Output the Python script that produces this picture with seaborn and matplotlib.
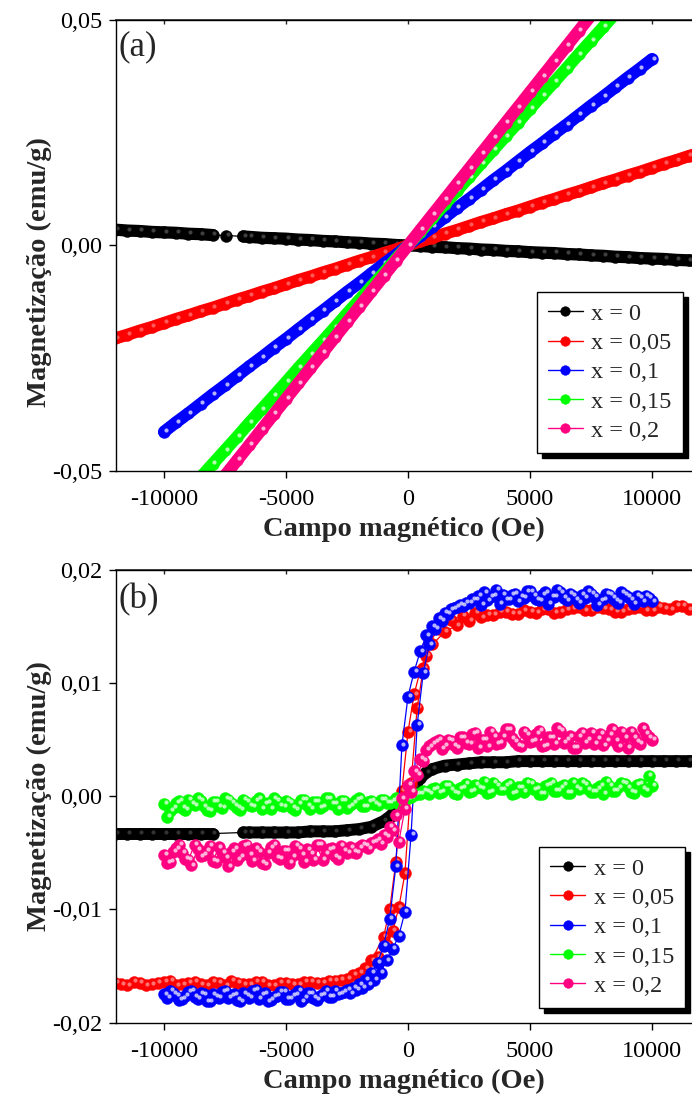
import numpy as np
import matplotlib.pyplot as plt
import matplotlib.transforms as mtransforms
import seaborn as sns

# ---- values ----
labels = ['x = 0', 'x = 0,05', 'x = 0,1', 'x = 0,15', 'x = 0,2']
colors = ['#000000', '#ff0000', '#0000ff', '#00ff00', '#ff0080']

xticks = [-10000, -5000, 0, 5000, 10000]
xtick_labels = ['-10000', '-5000', '0', '5000', '10000']
yticks_a = [-0.05, 0.0, 0.05]
ytick_labels_a = ['-0,05', '0,00', '0,05']
yticks_b = [-0.02, -0.01, 0.0, 0.01, 0.02]
ytick_labels_b = ['-0,02', '-0,01', '0,00', '0,01', '0,02']

# (a) linear M(H)
field_a_black = [-12000, -11500, -11000, -10500, -10000, -9500, -9000, -8500, -8000,
                 -7450, -6750, -6500, -6000, -5500, -5000, -4500, -4000, -3500, -3000,
                 -2500, -2000, -1500, -1000, -500, 0, 500, 1000, 1500, 2000, 2500, 3000,
                 3500, 4000, 4500, 5000, 5500, 6000, 6500, 7000, 7500, 8000, 8500, 9000,
                 9500, 10000, 10500, 11000, 11500, 12000]
m_a_black = [0.0035, 0.0033, 0.0032, 0.0030, 0.0029, 0.0028, 0.0026, 0.0025, 0.0023,
             0.0022, 0.0020, 0.0019, 0.0017, 0.0016, 0.0015, 0.0013, 0.0012, 0.0010, 0.0009,
             0.0007, 0.0006, 0.0004, 0.0003, 0.0001, 0.0, -0.0001, -0.0003, -0.0004, -0.0006,
             -0.0007, -0.0009, -0.0010, -0.0012, -0.0013, -0.0015, -0.0016, -0.0017, -0.0019,
             -0.0020, -0.0022, -0.0023, -0.0025, -0.0026, -0.0028, -0.0029, -0.0030, -0.0032,
             -0.0033, -0.0035]

field_a_wide = [-12000, -11500, -11000, -10500, -10000, -9500, -9000, -8500, -8000, -7500,
                -7000, -6500, -6000, -5500, -5000, -4500, -4000, -3500, -3000, -2500, -2000,
                -1500, -1000, -500, 0, 500, 1000, 1500, 2000, 2500, 3000, 3500, 4000, 4500,
                5000, 5500, 6000, 6500, 7000, 7500, 8000, 8500, 9000, 9500, 10000, 10500,
                11000, 11500, 12000]
m_a_red = [-0.0206, -0.0198, -0.0189, -0.0181, -0.0172, -0.0163, -0.0155, -0.0146, -0.0138,
           -0.0129, -0.0120, -0.0112, -0.0103, -0.0095, -0.0086, -0.0077, -0.0069, -0.0060,
           -0.0052, -0.0043, -0.0034, -0.0026, -0.0017, -0.0009, 0.0, 0.0009, 0.0017, 0.0026,
           0.0034, 0.0043, 0.0052, 0.0060, 0.0069, 0.0077, 0.0086, 0.0095, 0.0103, 0.0112,
           0.0120, 0.0129, 0.0138, 0.0146, 0.0155, 0.0163, 0.0172, 0.0181, 0.0189, 0.0198,
           0.0206]

field_a = [-10000, -9500, -9000, -8500, -8000, -7500, -7000, -6500, -6000, -5500, -5000,
           -4500, -4000, -3500, -3000, -2500, -2000, -1500, -1000, -500, 0, 500, 1000, 1500,
           2000, 2500, 3000, 3500, 4000, 4500, 5000, 5500, 6000, 6500, 7000, 7500, 8000,
           8500, 9000, 9500, 10000]
m_a_blue = [-0.0413, -0.0392, -0.0372, -0.0351, -0.0330, -0.0310, -0.0289, -0.0268, -0.0248,
            -0.0227, -0.0207, -0.0186, -0.0165, -0.0145, -0.0124, -0.0103, -0.0083, -0.0062,
            -0.0041, -0.0021, 0.0, 0.0021, 0.0041, 0.0062, 0.0083, 0.0103, 0.0124, 0.0145,
            0.0165, 0.0186, 0.0207, 0.0227, 0.0248, 0.0268, 0.0289, 0.0310, 0.0330, 0.0351,
            0.0372, 0.0392, 0.0413]
m_a_green = [-0.0605, -0.0575, -0.0545, -0.0514, -0.0484, -0.0454, -0.0424, -0.0393, -0.0363,
             -0.0333, -0.0303, -0.0272, -0.0242, -0.0212, -0.0182, -0.0151, -0.0121, -0.0091,
             -0.0061, -0.0030, 0.0, 0.0030, 0.0061, 0.0091, 0.0121, 0.0151, 0.0182, 0.0212,
             0.0242, 0.0272, 0.0303, 0.0333, 0.0363, 0.0393, 0.0424, 0.0454, 0.0484, 0.0514,
             0.0545, 0.0575, 0.0605]
m_a_pink = [-0.0680, -0.0646, -0.0612, -0.0578, -0.0544, -0.0510, -0.0476, -0.0442, -0.0408,
            -0.0374, -0.0340, -0.0306, -0.0272, -0.0238, -0.0204, -0.0170, -0.0136, -0.0102,
            -0.0068, -0.0034, 0.0, 0.0034, 0.0068, 0.0102, 0.0136, 0.0170, 0.0204, 0.0238,
            0.0272, 0.0306, 0.0340, 0.0374, 0.0408, 0.0442, 0.0476, 0.0510, 0.0544, 0.0578,
            0.0612, 0.0646, 0.0680]

# (b) hysteresis loops
field_b_black = [-12000, -11500, -11000, -10500, -10000, -9500, -9000, -8500, -8000, -6750,
                 -6500, -6000, -5500, -5000, -4500, -4000, -3500, -3000, -2500, -2000, -1500,
                 -1000, -750, -500, -250, 0, 250, 500, 750, 1000, 1500, 2000, 2500, 3000, 3500,
                 4000, 4500, 5000, 5500, 6000, 6500, 7000, 7500, 8000, 8500, 9000, 9500, 10000,
                 10500, 11000, 11500, 12000]
m_b_black = [-0.0033, -0.0033, -0.0033, -0.0033, -0.0033, -0.0033, -0.0033, -0.0033, -0.0033,
             -0.0032, -0.0032, -0.0032, -0.0032, -0.0032, -0.0032, -0.0031, -0.0031, -0.0031,
             -0.0030, -0.0029, -0.0027, -0.0022, -0.0018, -0.0013, -0.0007, 0.0, 0.0008,
             0.0016, 0.0021, 0.0024, 0.0027, 0.0028, 0.0029, 0.0030, 0.0030, 0.0030, 0.0031,
             0.0031, 0.0031, 0.0031, 0.0031, 0.0031, 0.0031, 0.0031, 0.0031, 0.0031, 0.0031,
             0.0031, 0.0031, 0.0031, 0.0031, 0.0031]

field_red_down = [12000, 11500, 11000, 10500, 10000, 9500, 9000, 8500, 8000, 7500, 7000, 6500,
                  6000, 5500, 5000, 4500, 4000, 3500, 3000, 2500, 2000, 1500, 1000, 750, 500,
                  250, 0, -250, -500, -750, -1000, -1500, -2000, -2500, -3000, -3500, -4000,
                  -4500, -5000, -5500, -6000, -6500, -7000, -7500, -8000, -8500, -9000, -9500,
                  -10000, -10500, -11000, -11500, -12000]
m_red_down = [0.0167, 0.0165, 0.0168, 0.0166, 0.0164, 0.0167, 0.0165, 0.0163, 0.0166, 0.0164,
              0.0167, 0.0165, 0.0162, 0.0165, 0.0163, 0.0161, 0.0163, 0.0160, 0.0158, 0.0155,
              0.0151, 0.0145, 0.0134, 0.0124, 0.0111, 0.0090, 0.0057, 0.0005, -0.0058, -0.0100,
              -0.0124, -0.0145, -0.0156, -0.0161, -0.0163, -0.0165, -0.0164, -0.0166, -0.0165,
              -0.0167, -0.0164, -0.0166, -0.0165, -0.0167, -0.0164, -0.0166, -0.0165, -0.0167,
              -0.0164, -0.0166, -0.0165, -0.0167, -0.0165]
field_red_up = [-11750, -11250, -10750, -10250, -9750, -9250, -8750, -8250, -7750, -7250,
                -6750, -6250, -5750, -5250, -4750, -4250, -3750, -3250, -2750, -2250, -1750,
                -1250, -875, -625, -375, -125, 125, 375, 625, 875, 1250, 1750, 2250, 2750,
                3250, 3750, 4250, 4750, 5250, 5750, 6250, 6750, 7250, 7750, 8250, 8750, 9250,
                9750, 10250, 10750, 11250, 11750]
m_red_up = [-0.0166, -0.0164, -0.0167, -0.0165, -0.0163, -0.0166, -0.0164, -0.0167, -0.0165,
            -0.0163, -0.0166, -0.0164, -0.0167, -0.0165, -0.0166, -0.0164, -0.0165, -0.0163,
            -0.0162, -0.0158, -0.0152, -0.0142, -0.0131, -0.0119, -0.0098, -0.0068, 0.0012,
            0.0078, 0.0113, 0.0135, 0.0148, 0.0156, 0.0159, 0.0162, 0.0160, 0.0163, 0.0161,
            0.0164, 0.0162, 0.0165, 0.0163, 0.0166, 0.0164, 0.0167, 0.0165, 0.0163, 0.0166,
            0.0164, 0.0167, 0.0165, 0.0168, 0.0166]

# field sweeps shared by x = 0,1 / 0,15 / 0,2 (down then up)
field_b_down = [10000, 9750, 9500, 9250, 9000, 8750, 8500, 8250, 8000, 7750,
                7500, 7250, 7000, 6750, 6500, 6250, 6000, 5750, 5500, 5250,
                5000, 4750, 4500, 4250, 4000, 3750, 3500, 3250, 3000, 2750,
                2500, 2250, 2000, 1750, 1500, 1250, 1000, 750, 500, 250,
                0, -250, -500, -750, -1000, -1250, -1500, -1750, -2000, -2250,
                -2500, -2750, -3000, -3250, -3500, -3750, -4000, -4250, -4500, -4750,
                -5000, -5250, -5500, -5750, -6000, -6250, -6500, -6750, -7000, -7250,
                -7500, -7750, -8000, -8250, -8500, -8750, -9000, -9250, -9500, -9750,
                -10000]
field_b_up = [-9875, -9625, -9375, -9125, -8875, -8625, -8375, -8125, -7875, -7625,
              -7375, -7125, -6875, -6625, -6375, -6125, -5875, -5625, -5375, -5125,
              -4875, -4625, -4375, -4125, -3875, -3625, -3375, -3125, -2875, -2625,
              -2375, -2125, -1875, -1625, -1375, -1125, -875, -625, -375, -125,
              125, 375, 625, 875, 1125, 1375, 1625, 1875, 2125, 2375,
              2625, 2875, 3125, 3375, 3625, 3875, 4125, 4375, 4625, 4875,
              5125, 5375, 5625, 5875, 6125, 6375, 6625, 6875, 7125, 7375,
              7625, 7875, 8125, 8375, 8625, 8875, 9125, 9375, 9625, 9875]

m_blue_down = [0.0172, 0.0177, 0.0175, 0.0170, 0.0176, 0.0180, 0.0173, 0.0178, 0.0174, 0.0169,
               0.0179, 0.0175, 0.0171, 0.0177, 0.0173, 0.0180, 0.0176, 0.0170, 0.0178, 0.0174,
               0.0181, 0.0175, 0.0172, 0.0178, 0.0174, 0.0170, 0.0177, 0.0173, 0.0169, 0.0174,
               0.0171, 0.0168, 0.0167, 0.0165, 0.0162, 0.0157, 0.0150, 0.0142, 0.0128, 0.0110,
               0.0088, 0.0045, -0.0062, -0.0108, -0.0132, -0.0147, -0.0156, -0.0162, -0.0166, -0.0169,
               -0.0171, -0.0174, -0.0172, -0.0177, -0.0175, -0.0180, -0.0174, -0.0178, -0.0172, -0.0176,
               -0.0179, -0.0173, -0.0177, -0.0181, -0.0175, -0.0171, -0.0178, -0.0174, -0.0180, -0.0176,
               -0.0172, -0.0178, -0.0175, -0.0181, -0.0174, -0.0177, -0.0173, -0.0179, -0.0176, -0.0172,
               -0.0175]
m_blue_up = [-0.0178, -0.0174, -0.0180, -0.0176, -0.0172, -0.0179, -0.0175, -0.0181, -0.0177, -0.0173,
             -0.0178, -0.0175, -0.0181, -0.0176, -0.0172, -0.0179, -0.0174, -0.0180, -0.0176, -0.0173,
             -0.0179, -0.0175, -0.0181, -0.0174, -0.0178, -0.0176, -0.0172, -0.0177, -0.0175, -0.0173,
             -0.0174, -0.0171, -0.0169, -0.0166, -0.0162, -0.0156, -0.0145, -0.0135, -0.0123, -0.0102,
             -0.0034, 0.0063, 0.0109, 0.0134, 0.0148, 0.0155, 0.0161, 0.0166, 0.0169, 0.0171,
             0.0174, 0.0177, 0.0180, 0.0176, 0.0182, 0.0178, 0.0174, 0.0179, 0.0176, 0.0181,
             0.0177, 0.0173, 0.0180, 0.0176, 0.0182, 0.0175, 0.0179, 0.0174, 0.0178, 0.0181,
             0.0176, 0.0173, 0.0179, 0.0175, 0.0171, 0.0178, 0.0174, 0.0177, 0.0172, 0.0175]

m_green_down = [0.0009, 0.0005, 0.0011, 0.0003, 0.0008, 0.0012, 0.0005, 0.0009, 0.0002, 0.0007,
                0.0004, 0.0010, 0.0006, 0.0012, 0.0003, 0.0008, 0.0005, 0.0010, 0.0002, 0.0007,
                0.0011, 0.0004, 0.0008, 0.0002, 0.0009, 0.0006, 0.0012, 0.0003, 0.0007, 0.0010,
                0.0004, 0.0008, 0.0002, 0.0006, 0.0009, 0.0003, 0.0006, 0.0004, 0.0002, 0.0001,
                -0.0002, -0.0004, -0.0002, -0.0006, -0.0003, -0.0008, -0.0004, -0.0009, -0.0002, -0.0006,
                -0.0010, -0.0004, -0.0007, -0.0002, -0.0009, -0.0005, -0.0011, -0.0003, -0.0007, -0.0010,
                -0.0004, -0.0008, -0.0002, -0.0006, -0.0011, -0.0004, -0.0008, -0.0003, -0.0010, -0.0006,
                -0.0002, -0.0009, -0.0005, -0.0012, -0.0004, -0.0008, -0.0003, -0.0010, -0.0006, -0.0013,
                -0.0007]
m_green_up = [-0.0018, -0.0010, -0.0004, -0.0012, -0.0007, -0.0002, -0.0009, -0.0013, -0.0005, -0.0010,
              -0.0003, -0.0008, -0.0012, -0.0005, -0.0009, -0.0002, -0.0007, -0.0011, -0.0004, -0.0009,
              -0.0006, -0.0012, -0.0003, -0.0008, -0.0005, -0.0010, -0.0002, -0.0007, -0.0011, -0.0004,
              -0.0008, -0.0003, -0.0009, -0.0005, -0.0007, -0.0003, -0.0006, -0.0004, -0.0007, -0.0003,
              -0.0001, 0.0002, 0.0005, 0.0002, 0.0007, 0.0004, 0.0009, 0.0003, 0.0007, 0.0011,
              0.0005, 0.0008, 0.0013, 0.0004, 0.0009, 0.0006, 0.0011, 0.0003, 0.0008, 0.0012,
              0.0006, 0.0002, 0.0009, 0.0012, 0.0005, 0.0010, 0.0003, 0.0008, 0.0012, 0.0006,
              0.0004, 0.0009, 0.0013, 0.0005, 0.0008, 0.0011, 0.0004, 0.0010, 0.0007, 0.0018]

m_pink_down = [0.0050, 0.0055, 0.0046, 0.0052, 0.0043, 0.0057, 0.0049, 0.0054, 0.0045, 0.0051,
               0.0056, 0.0047, 0.0053, 0.0043, 0.0050, 0.0058, 0.0046, 0.0052, 0.0044, 0.0055,
               0.0048, 0.0057, 0.0045, 0.0051, 0.0059, 0.0047, 0.0053, 0.0044, 0.0050, 0.0056,
               0.0046, 0.0052, 0.0043, 0.0049, 0.0045, 0.0050, 0.0046, 0.0041, 0.0033, 0.0022,
               0.0010, -0.0002, -0.0017, -0.0027, -0.0034, -0.0038, -0.0041, -0.0044, -0.0045, -0.0049,
               -0.0050, -0.0044, -0.0053, -0.0047, -0.0056, -0.0043, -0.0051, -0.0058, -0.0046, -0.0053,
               -0.0048, -0.0055, -0.0043, -0.0050, -0.0059, -0.0046, -0.0052, -0.0044, -0.0056, -0.0049,
               -0.0054, -0.0045, -0.0057, -0.0048, -0.0053, -0.0043, -0.0056, -0.0050, -0.0046, -0.0058,
               -0.0052]
m_pink_up = [-0.0059, -0.0049, -0.0043, -0.0055, -0.0061, -0.0047, -0.0052, -0.0044, -0.0058, -0.0050,
             -0.0062, -0.0046, -0.0053, -0.0043, -0.0057, -0.0049, -0.0060, -0.0045, -0.0054, -0.0048,
             -0.0059, -0.0044, -0.0052, -0.0047, -0.0056, -0.0043, -0.0051, -0.0046, -0.0055, -0.0048,
             -0.0045, -0.0050, -0.0043, -0.0046, -0.0040, -0.0042, -0.0036, -0.0030, -0.0040, -0.0011,
             0.0004, 0.0019, 0.0031, 0.0044, 0.0048, 0.0042, 0.0050, 0.0045, 0.0052, 0.0047,
             0.0055, 0.0043, 0.0050, 0.0057, 0.0046, 0.0053, 0.0059, 0.0048, 0.0044, 0.0054,
             0.0049, 0.0058, 0.0045, 0.0052, 0.0060, 0.0047, 0.0053, 0.0043, 0.0056, 0.0050,
             0.0046, 0.0055, 0.0049, 0.0059, 0.0044, 0.0052, 0.0057, 0.0048, 0.0060, 0.0052]

sns.set_theme(style='ticks')
plt.rcParams['font.family'] = ['Liberation Serif', 'DejaVu Serif']


# Function to draw one series as shiny balls joined by a thin line
def draw_series(ax, h, m, color, label, z, ms, band=0, shine=0.7):
    h = np.asarray(h, dtype=float)
    m = np.asarray(m, dtype=float)
    if band:
        # dense runs look like a solid stripe; break where the data has gaps
        cuts = np.where(np.abs(np.diff(h)) > 510)[0] + 1
        for hs, mv in zip(np.split(h, cuts), np.split(m, cuts)):
            if len(hs) > 1:
                ax.plot(hs, mv, color=color, lw=band, solid_capstyle='round', zorder=z)
    sns.lineplot(x=h, y=m, sort=False, estimator=None, color=color, lw=0.9,
                 marker='o', markersize=ms, markeredgecolor=color, markeredgewidth=0.3,
                 label=label, zorder=z + 0.01, ax=ax)
    tr = mtransforms.offset_copy(ax.transData, fig=ax.figure, x=1.1, y=1.2, units='points')
    ax.plot(h, m, ls='none', marker='o', ms=3.0, mew=0, color='white', alpha=shine,
            transform=tr, zorder=z + 0.02)


# Function to style one panel
def style_panel(ax, yticks, ytick_labels, ylim, letter, legend_anchor, ylabel_y, letter_y):
    ax.set_xlim(-11970, 11640)
    ax.set_ylim(*ylim)
    ax.set_xticks(xticks)
    ax.set_xticklabels(xtick_labels)
    ax.set_yticks(yticks)
    ax.set_yticklabels(ytick_labels)
    ax.spines['right'].set_visible(False)
    for s in ['left', 'bottom', 'top']:
        ax.spines[s].set_color('black')
        ax.spines[s].set_linewidth(1.0)
    ax.tick_params(direction='out', length=5, width=1, labelsize=17.5, colors='black')
    ax.tick_params(axis='x', pad=8)
    ax.tick_params(axis='y', pad=5)
    top = ax.secondary_xaxis('top')
    top.set_xticks(xticks)
    top.tick_params(direction='in', length=3, width=1, labeltop=False)
    top.spines['top'].set_color('#333333')
    ax.set_xlabel('Campo magnético (Oe)', fontsize=20.5, fontweight='bold', labelpad=5)
    ax.set_ylabel('Magnetização (emu/g)', fontsize=20.5, fontweight='bold', labelpad=0)
    ax.yaxis.label.set_y(ylabel_y)
    ax.text(0.004, letter_y, letter, transform=ax.transAxes, fontsize=25, va='top', ha='left')
    leg = ax.legend(loc='lower right', bbox_to_anchor=legend_anchor, borderaxespad=0,
                    fontsize=17.5, frameon=True, fancybox=False, edgecolor='black',
                    framealpha=1, handlelength=1.45, handletextpad=0.35, labelspacing=0.3,
                    borderpad=0.45,
                    shadow={'color': 'black', 'alpha': 1, 'ox': 3.5, 'oy': -3.5})
    leg.get_frame().set_linewidth(1.0)
    for line in leg.get_lines():
        line.set_linewidth(1.0)
        line.set_markersize(7.0)


fig = plt.figure(figsize=(6.92, 10.95), dpi=100)
ax_a = fig.add_axes([0.1676, 0.5699, 0.8324, 0.4119])
ax_b = fig.add_axes([0.1676, 0.0660, 0.8324, 0.4137])

# panel (a)
draw_series(ax_a, field_a_black, m_a_black, colors[0], labels[0], 2.0, 8.6, band=8.8, shine=0.25)
draw_series(ax_a, field_a_wide, m_a_red, colors[1], labels[1], 2.1, 8.6, band=8.8, shine=0.35)
draw_series(ax_a, field_a, m_a_blue, colors[2], labels[2], 2.2, 8.6, band=8.8)
draw_series(ax_a, field_a, m_a_green, colors[3], labels[3], 2.3, 8.6, band=8.8)
draw_series(ax_a, field_a, m_a_pink, colors[4], labels[4], 2.4, 8.6, band=8.8)
style_panel(ax_a, yticks_a, ytick_labels_a, (-0.05, 0.05), '(a)', (0.984, 0.040), 0.44, 0.978)

# panel (b)
draw_series(ax_b, field_b_black, m_b_black, colors[0], labels[0], 2.0, 8.6, band=8.6, shine=0.2)
draw_series(ax_b, field_red_down + field_red_up, m_red_down + m_red_up,
            colors[1], labels[1], 2.1, 8.6, shine=0.45)
draw_series(ax_b, field_b_down + field_b_up, m_blue_down + m_blue_up,
            colors[2], labels[2], 2.2, 8.6)
draw_series(ax_b, field_b_down + field_b_up, m_green_down + m_green_up,
            colors[3], labels[3], 2.3, 8.6)
draw_series(ax_b, field_b_down + field_b_up, m_pink_down + m_pink_up,
            colors[4], labels[4], 2.4, 8.6)
style_panel(ax_b, yticks_b, ytick_labels_b, (-0.02, 0.02), '(b)', (0.988, 0.033), 0.5, 0.97)

fig.savefig('out.png', dpi=100)
